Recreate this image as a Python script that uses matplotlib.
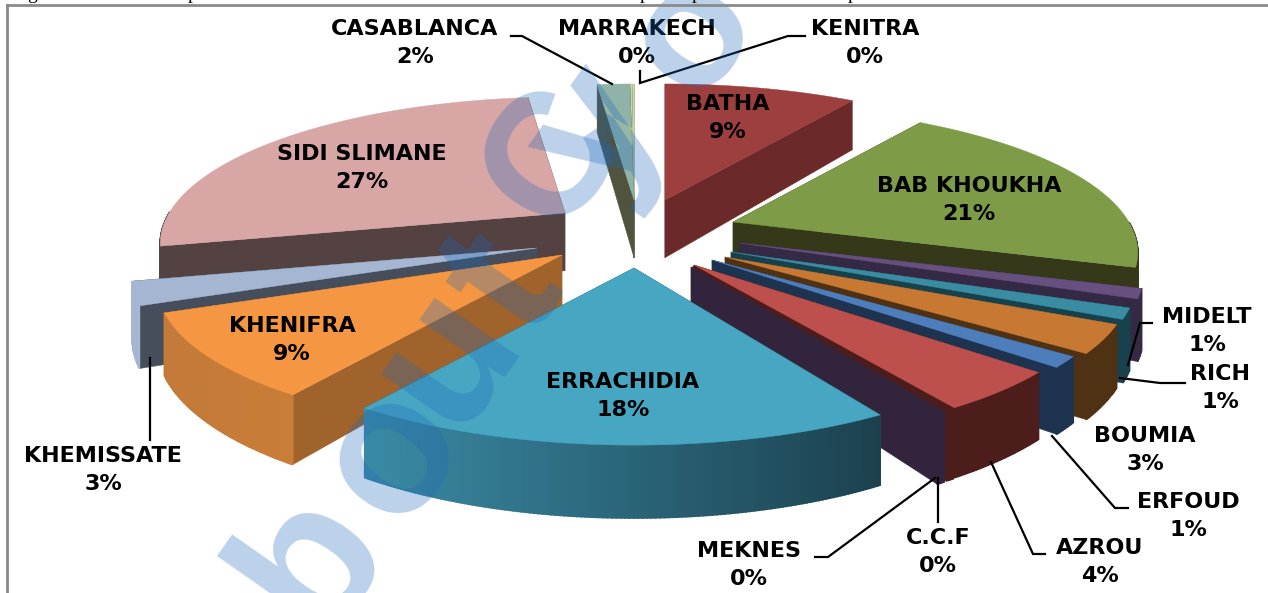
import numpy as np
import matplotlib
matplotlib.use("Agg")
import matplotlib.pyplot as plt
from matplotlib.colors import to_rgb

# Values (percent), clockwise from the back of the pie
names = ["BATHA", "BAB KHOUKHA", "MIDELT", "RICH", "BOUMIA", "ERFOUD", "AZROU", "C.C.F",
         "MEKNES", "ERRACHIDIA", "KHENIFRA", "KHEMISSATE", "SIDI SLIMANE", "CASABLANCA",
         "MARRAKECH", "KENITRA"]
values = [9.4, 20.6, 1.1, 1.2, 3.1, 1.2, 4.4, 0.3, 0.3, 18.1, 9.3, 2.6, 26.9, 1.6, 0.1, 0.1]

top_colors = ["#9c3f3e", "#7e9b47", "#67507f", "#3a8ca3", "#c77934", "#4d7ebb", "#bd4f4d", "#4d1d1c",
              "#33243d", "#47a7c3", "#f59643", "#a5b6d3", "#d7a6a5", "#8fb3a9", "#c9d8a0", "#c9d8a0"]
wall_colors = ["#6b2a29", "#35391a", "#352a45", "#17414c", "#4f3114", "#1e334f", "#4d1d1c", "#4d1d1c",
               "#33243d", "#1e4450", "#a0632b", "#464e5c", "#544141", "#50533d", "#50533d", "#50533d"]
# outer wall colours, left and right end of the arc
arc_left = ["#6b2a29", "#35391a", "#352a45", "#17414c", "#4f3114", "#1e334f", "#4d1d1c", "#4d1d1c",
            "#33243d", "#3a8aa5", "#c47a38", "#a5b6d3", "#544141", "#50533d", "#50533d", "#50533d"]
arc_right = ["#6b2a29", "#35391a", "#352a45", "#17414c", "#4f3114", "#1e334f", "#4d1d1c", "#4d1d1c",
             "#33243d", "#1c414e", "#c87d38", "#a5b6d3", "#544141", "#50533d", "#50533d", "#50533d"]

# where each exploded slice has its point, in pixels
apex_x = [665, 733, 739, 731, 725, 712, 694, 693, 691, 634, 562, 537, 565, 634, 634, 634]
apex_y = [200, 222, 243, 252, 257, 260, 265, 266, 267, 268, 255, 248, 213, 200, 200, 200]

label_x = [728, 969, 1207, 1220, 1145, 1188, 1100, 938, 749, 623, 292, 103, 362, 415, 637, 865]
label_y = [118, 200, 331, 388, 450, 516, 562, 552, 565, 396, 340, 470, 168, 43, 43, 43]

# leader lines: x list, y list
leaders = [
    ([511, 522, 612], [36, 36, 84]),
    ([640, 640, 788, 805], [71, 83, 36, 36]),
    ([1152, 1140, 1128], [323, 323, 365]),
    ([1185, 1160, 1120], [383, 383, 378]),
    ([1128, 1115, 1052], [508, 508, 436]),
    ([1045, 1033, 991], [554, 554, 462]),
    ([938, 938], [478, 522]),
    ([815, 828, 935], [557, 557, 478]),
    ([150, 150], [358, 440]),
]

# what is left of the caption above the frame
caption_chars = ["g", "p", "p", "p", "p"]
caption_x = [32, 192, 645, 697, 853]

wm_chars = ["b", "o", "u", "t", "C", "y", "o"]
wm_x = [312, 392, 447, 505, 556, 598, 692]
wm_y = [560, 453, 355, 285, 158, 133, 33]
wm_size = [140, 140, 140, 140, 125, 135, 125]

F, G, DIST, DEPTH = 1900.0, 673.0, 4.8, 277.0


def project(r, theta):
    t = np.radians(theta)
    w = DIST + r * np.cos(t)
    return F * r * np.sin(t) / w, -G * r * np.cos(t) / w, DEPTH / w


fig = plt.figure(figsize=(12.68, 5.93), dpi=100)
ax = fig.add_axes([0, 0, 1, 1])
ax.set_xlim(0, 1268)
ax.set_ylim(593, 0)
ax.axis("off")

edges = np.concatenate([[0], np.cumsum(values)]) / np.sum(values) * 360.0

# back to front
order = [0, 15, 14, 13, 12, 11, 10, 1, 2, 3, 4, 5, 6, 7, 8, 9]
for i in order:
    a0, a1 = edges[i], edges[i + 1]
    cx, cy = apex_x[i], apex_y[i]
    th = np.linspace(a0, a1, max(int((a1 - a0) * 2), 2) + 1)
    px, py, pd = project(1.0, th)
    px, py = px + cx, py + cy
    _, _, d0 = project(0.0, 0.0)
    # radial walls
    for k in [0, -1]:
        ax.fill([cx, px[k], px[k], cx], [cy, py[k], py[k] + pd[k], cy + d0],
                color=wall_colors[i], lw=0.3, zorder=2)
    # outer wall, in facets for the gradient
    c0, c1 = np.array(to_rgb(arc_left[i])), np.array(to_rgb(arc_right[i]))
    xmin, xmax = px.min(), px.max()
    for k in range(len(th) - 1):
        if 90 < th[k] < 270:
            s = (0.5 * (px[k] + px[k + 1]) - xmin) / max(xmax - xmin, 1)
            ax.fill([px[k], px[k + 1], px[k + 1], px[k]],
                    [py[k], py[k + 1], py[k + 1] + pd[k + 1], py[k] + pd[k]],
                    color=tuple(c0 + (c1 - c0) * s), lw=1.2, zorder=2)
    ax.fill(np.r_[cx, px], np.r_[cy, py], color=top_colors[i], lw=0.3, zorder=2)

# pale band across the CASABLANCA top
i = names.index("CASABLANCA")
lx, ly, _ = project(1.0, edges[i])
rx, ry, _ = project(1.0, edges[i + 1])
ox, oy = apex_x[i], apex_y[i]
ax.fill([ox + lx * 0.87, ox + rx * 0.47, ox + rx * 0.62, ox + lx * 0.75],
        [oy + ly * 0.87, oy + ry * 0.47, oy + ry * 0.62, oy + ly * 0.75],
        color=top_colors[names.index("MARRAKECH")], lw=0, zorder=2)

for xs, ys in leaders:
    ax.plot(xs, ys, color="black", lw=1.6, solid_joinstyle="miter", zorder=3)

for name, v, x, y in zip(names, values, label_x, label_y):
    ax.text(x, y, "%s\n%.0f%%" % (name, v), ha="center", va="center", fontsize=16,
            family="DejaVu Sans", weight="bold", color="black", linespacing=1.55, zorder=4)

for ch, x, y, s in zip(wm_chars, wm_x, wm_y, wm_size):
    ax.text(x, y, ch, rotation=55, ha="center", va="center", fontsize=s,
            family="Liberation Sans", weight="bold", color="#2069b9", alpha=0.3, zorder=5)

# frame and clipped caption
ax.plot([7, 7], [593, 5], color="#8a8a8a", lw=2, zorder=6)
ax.plot([7, 1268], [5, 5], color="#8a8a8a", lw=2, zorder=6)
for ch, x in zip(caption_chars, caption_x):
    ax.text(x, -1, ch, ha="center", va="baseline", fontsize=14, family="Liberation Serif", zorder=6)

fig.savefig("out.png", dpi=100)
